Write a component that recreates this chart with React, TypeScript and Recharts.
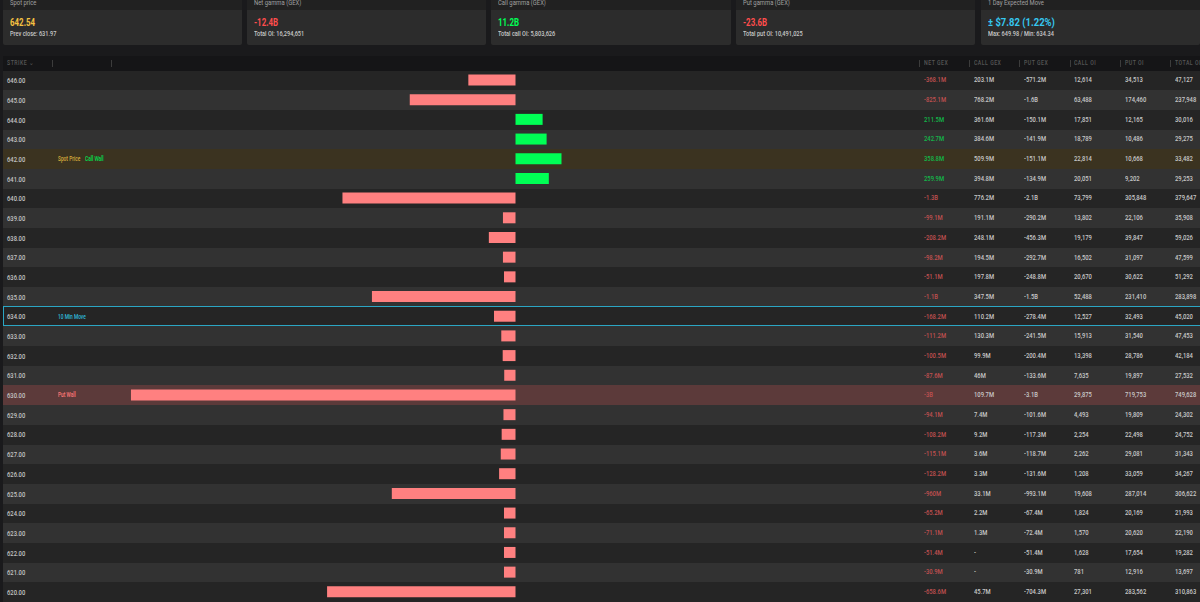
import React from 'react';
import { BarChart, Bar, Cell, XAxis, YAxis } from 'recharts';

const strikes = ['646.00','645.00','644.00','643.00','642.00','641.00','640.00','639.00','638.00','637.00','636.00','635.00','634.00','633.00','632.00','631.00','630.00','629.00','628.00','627.00','626.00','625.00','624.00','623.00','622.00','621.00','620.00'];
// bar lengths, in millions
const barValues = [-368,-825,211.5,242.7,358.8,259.9,-1350,-98,-208,-98,-90,-1120,-168,-111,-100,-88,-3000,-94,-108,-115,-128,-965,-90,-90,-90,-90,-1470];
const netGex = ['-368.1M','-825.1M','211.5M','242.7M','358.8M','259.9M','-1.3B','-99.1M','-208.2M','-98.2M','-51.1M','-1.1B','-168.2M','-111.2M','-100.5M','-87.6M','-3B','-94.1M','-108.2M','-115.1M','-128.2M','-960M','-65.2M','-71.1M','-51.4M','-30.9M','-658.6M'];
const callGex = ['203.1M','768.2M','361.6M','384.6M','509.9M','394.8M','776.2M','191.1M','248.1M','194.5M','197.8M','347.5M','110.2M','130.3M','99.9M','46M','109.7M','7.4M','9.2M','3.6M','3.3M','33.1M','2.2M','1.3M','-','-','45.7M'];
const putGex = ['-571.2M','-1.6B','-150.1M','-141.9M','-151.1M','-134.9M','-2.1B','-290.2M','-456.3M','-292.7M','-248.8M','-1.5B','-278.4M','-241.5M','-200.4M','-133.6M','-3.1B','-101.6M','-117.3M','-118.7M','-131.6M','-993.1M','-67.4M','-72.4M','-51.4M','-30.9M','-704.3M'];
const callOi = ['12,614','63,488','17,851','18,789','22,814','20,051','73,799','13,802','19,179','16,502','20,670','52,488','12,527','15,913','13,398','7,635','29,875','4,493','2,254','2,262','1,208','19,608','1,824','1,570','1,628','781','27,301'];
const putOi = ['34,513','174,460','12,165','10,486','10,668','9,202','305,848','22,106','39,847','31,097','30,622','231,410','32,493','31,540','28,786','19,897','719,753','19,809','22,498','29,081','33,059','287,014','20,169','20,620','17,654','12,916','283,562'];
const totalOi = ['47,127','237,948','30,016','29,275','33,482','29,253','379,647','35,908','59,026','47,599','51,292','283,898','45,020','47,453','42,184','27,532','749,628','24,302','24,752','31,343','34,267','306,622','21,993','22,190','19,282','13,697','310,863'];

const cards = [
  { title: 'Spot price', value: '642.54', sub: 'Prev close: 631.97', color: '#f5c242', x: 3, w: 239 },
  { title: 'Net gamma (GEX)', value: '-12.4B', sub: 'Total OI: 16,294,651', color: '#ff4d4d', x: 247, w: 239 },
  { title: 'Call gamma (GEX)', value: '11.2B', sub: 'Total call OI: 5,803,626', color: '#00ff55', x: 491, w: 240 },
  { title: 'Put gamma (GEX)', value: '-23.6B', sub: 'Total put OI: 10,491,025', color: '#ff4d4d', x: 736, w: 239 },
  { title: '1 Day Expected Move', value: '± $7.82 (1.22%)', sub: 'Max: 649.98 / Min: 634.34', color: '#35c8f0', x: 981, w: 219 },
];

const columns = [
  { label: 'NET GEX', x: 923.5, values: netGex },
  { label: 'CALL GEX', x: 974, values: callGex },
  { label: 'PUT GEX', x: 1024, values: putGex },
  { label: 'CALL OI', x: 1074, values: callOi },
  { label: 'PUT OI', x: 1124.5, values: putOi },
  { label: 'TOTAL OI', x: 1175, values: totalOi },
];
const dividers = [52, 111, 918.5, 969, 1019, 1069.5, 1119.5, 1169.5];

const font = 'Roboto, sans-serif';
const tableTop = 70.5;
const rowH = 531.5 / strikes.length;
const chartData = strikes.map((strike, i) => ({ strike, value: barValues[i] }));

const narrow = (sx: number): React.CSSProperties => ({
  transform: `scaleX(${sx})`,
  transformOrigin: 'left center',
  whiteSpace: 'nowrap',
});

const rowBg = (i: number) => {
  if (strikes[i] === '642.00') return '#3b3320';
  if (strikes[i] === '630.00') return '#5c3a3a';
  return i % 2 === 0 ? '#252525' : '#323232';
};

const StrikeTick = ({ y, payload }: any) => (
  <text transform={`translate(7 ${y + 2.8}) scale(0.73 1)`} fontSize={8} fontWeight={500} fontFamily={font} fill="#c4c4c4">{payload.value}</text>
);

const tag = (x: number, color: string, text: string, top: number) => (
  <span style={{ position: 'absolute', left: x, top, fontSize: 6.5, lineHeight: '8px', color, fontWeight: 500, ...narrow(0.74) }}>{text}</span>
);

export default function App() {
  return (
    <div style={{ position: 'absolute', left: 0, top: 0, width: 1200, height: 602, overflow: 'hidden', background: '#1a1a1c', fontFamily: font }}>
      {cards.map(c => (
        <div key={c.title}>
          <div style={{ position: 'absolute', left: c.x, top: 0, width: c.w, height: 10, background: '#212121' }} />
          <div style={{ position: 'absolute', left: c.x + 6.5, top: 0, fontSize: 7, lineHeight: '7px', color: '#a0a0a0', ...narrow(0.84) }}>{c.title}</div>
          <div style={{ position: 'absolute', left: c.x, top: 10, width: c.w, height: 35, background: '#2c2c2c', borderRadius: '0 0 2px 2px' }} />
          <div style={{ position: 'absolute', left: c.x + 6.5, top: 16, fontSize: 11, lineHeight: '13px', fontWeight: 700, color: c.color, ...narrow(c.x === 981 ? 0.86 : 0.72) }}>{c.value}</div>
          <div style={{ position: 'absolute', left: c.x + 6.5, top: 28.5, fontSize: 8, lineHeight: '10px', fontWeight: 500, color: '#c8c8c8', ...narrow(0.7) }}>{c.sub}</div>
        </div>
      ))}

      <div style={{ position: 'absolute', left: 3, top: 56, width: 1197, height: 14.5, background: '#151517' }} />
      <div style={{ position: 'absolute', left: 7, top: 59, fontSize: 6.5, lineHeight: '9px', letterSpacing: 0.6, color: '#565656', fontWeight: 500, ...narrow(0.8) }}>STRIKE ⌄</div>
      {columns.map(c => (
        <div key={c.label} style={{ position: 'absolute', left: c.x, top: 59, fontSize: 6.5, lineHeight: '9px', letterSpacing: 0.6, color: '#565656', fontWeight: 500, ...narrow(0.8) }}>{c.label}</div>
      ))}
      {dividers.map(x => (
        <div key={x} style={{ position: 'absolute', left: x, top: 60, width: 1, height: 7, background: '#3c3c3c' }} />
      ))}

      {strikes.map((s, i) => (
        <div key={s} style={{ position: 'absolute', left: 3, top: tableTop + i * rowH, width: 1197, height: rowH, background: rowBg(i) }} />
      ))}

      <BarChart
        width={1200}
        height={602}
        data={chartData}
        layout="vertical"
        margin={{ top: tableTop, right: 282, bottom: 0, left: 0 }}
        barCategoryGap={0}
        style={{ position: 'absolute', left: 0, top: 0 }}
      >
        <XAxis type="number" domain={[-3616, 3140]} hide />
        <YAxis type="category" dataKey="strike" width={52} axisLine={false} tickLine={false} interval={0} tick={<StrikeTick />} />
        <Bar dataKey="value" barSize={11} isAnimationActive={false}>
          {barValues.map((v, i) => (
            <Cell key={strikes[i]} fill={v < 0 ? '#ff8080' : '#00ff55'} />
          ))}
        </Bar>
      </BarChart>

      {strikes.map((s, i) => {
        const top = tableTop + i * rowH + rowH / 2 - 5;
        return (
          <div key={s}>
            {columns.map((c, ci) => (
              <span key={c.label} style={{
                position: 'absolute', left: c.x, top, fontSize: 8, lineHeight: '10px', fontWeight: 500,
                color: ci === 0 ? (barValues[i] < 0 ? '#c05050' : '#12b84a') : '#c8c8c8',
                ...narrow(0.73),
              }}>{c.values[i]}</span>
            ))}
          </div>
        );
      })}

      {tag(57.5, '#d9ad3c', 'Spot Price', tableTop + 4 * rowH + 5.8)}
      {tag(84.5, '#00e050', 'Call Wall', tableTop + 4 * rowH + 5.8)}
      {tag(57.5, '#2fb8dc', '10 Min Move', tableTop + 12 * rowH + 5.8)}
      {tag(57.5, '#ff7878', 'Put Wall', tableTop + 16 * rowH + 5.8)}

      <div style={{ position: 'absolute', left: 2.5, top: tableTop + 12 * rowH - 0.5, width: 1198, height: rowH, boxSizing: 'border-box', border: '1px solid #2ba6c4', borderRight: 'none' }} />
    </div>
  );
}
